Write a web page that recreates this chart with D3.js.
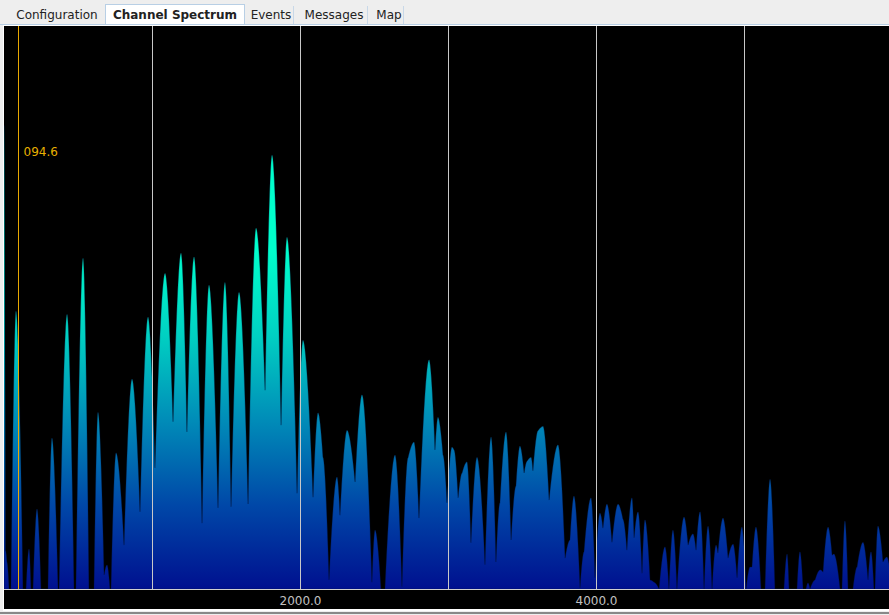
<!DOCTYPE html>
<html><head><meta charset="utf-8">
<script src="https://cdn.jsdelivr.net/npm/d3@7"></script>
<style>
html,body{margin:0;padding:0;background:#eeeeee;overflow:hidden}
svg{display:block}
text{font-family:"DejaVu Sans",sans-serif}
</style></head>
<body>
<svg id="c" width="889" height="615"></svg>
<script>
// ---- data ----
const tabs = ["Configuration","Channel Spectrum","Events","Messages","Map"];
const selectedTab = "Channel Spectrum";
const tickValues = [2000, 4000];
const tickLabels = ["2000.0", "4000.0"];
const gridValues = [1000, 2000, 3000, 4000, 5000];
const markerFreq = 94.6;
const markerLabel = "094.6";
// spectrum: frequency (Hz) and level (0-100 scale)
const freqs = [0,10,20,34,47,81,128,149,169,182,196,223,250,297,324,365,372,426,473,486,534,574,608,635,676,696,716,723,757,811,865,919,973,1020,1088,1142,1196,1236,1284,1338,1385,1446,1493,1534,1588,1649,1703,1764,1811,1872,1912,1980,2020,2088,2122,2155,2196,2250,2270,2318,2372,2419,2486,2507,2547,2574,2642,2689,2730,2770,2804,2872,2912,2932,2966,2993,3027,3041,3068,3095,3128,3155,3196,3250,3291,3324,3351,3392,3426,3459,3486,3514,3534,3561,3574,3608,3642,3683,3743,3791,3824,3851,3892,3919,3966,3993,4027,4047,4074,4108,4149,4182,4209,4243,4257,4284,4311,4331,4365,4392,4426,4466,4493,4520,4547,4595,4622,4655,4676,4703,4730,4757,4784,4811,4824,4858,4892,4926,4953,4986,5014,5041,5054,5081,5115,5142,5176,5209,5270,5291,5304,5358,5378,5399,5419,5432,5446,5480,5514,5534,5568,5595,5608,5649,5662,5682,5703,5736,5764,5804,5838,5858,5878,5885,5905,5939,5966,5986];
const levels = [82.4,6.9,4.8,0,0,49.4,0,0,7.1,0,0,14.2,0,0,26.8,0,0,48.8,0,0,58.8,0,0,31.4,2.5,4.3,0,0,24.2,7.8,37.3,13.7,48.3,21.5,56.1,29.7,59.7,27.9,59.0,11.7,54.0,14.4,54.5,14.6,52.7,15.1,64.1,35.3,77.1,29.1,62.5,17.0,44.2,16.3,31.3,23.4,1.6,19.9,13.1,28.2,19.0,34.5,1.2,10.5,0,0,23.8,0.4,23.3,26.1,12.6,40.7,24.7,30.5,23.8,15.3,25.2,24.7,16.2,20.6,22.6,8.2,23.4,4.3,27.0,4.8,15.3,27.9,8.7,18.3,25.4,20.6,22.7,23.4,21.0,28.1,28.9,15.8,25.6,5.5,8.7,16.5,0.2,6.6,16.2,2.0,13.5,10.8,15.1,8.3,15.1,12.4,6.9,16.2,9.1,13.7,2.8,12.3,1.6,1.2,0,7.5,0,10.5,0,12.8,7.8,9.8,6.9,13.7,0,11.2,0,7.8,6.4,12.6,5.5,8.0,2.0,11.0,0,3.9,3.9,11.0,0,0,19.5,0,0,6.2,0,0,6.6,0,0,1.1,0,1.6,3.4,3.0,11.0,6.0,6.2,0,0,12.1,0,0,3.9,8.3,1.6,6.6,0,0,11.2,4.8,5.7,3.4];

// ---- custom curve: rounded peaks, sharp troughs ----
function PeakCurve(context){ this._context = context; }
PeakCurve.prototype = {
  areaStart(){ this._line = 0; },
  areaEnd(){ this._line = NaN; },
  lineStart(){ this._point = 0; },
  lineEnd(){
    if (this._line || (this._line !== 0 && this._point === 1)) this._context.closePath();
    this._line = 1 - this._line;
  },
  point(px, py){
    px = +px; py = +py;
    if (this._point === 0) {
      this._point = 1;
      this._line ? this._context.lineTo(px, py) : this._context.moveTo(px, py);
    } else {
      const x0 = this._x0, y0 = this._y0, dx = px - x0, k = 0.62;
      if (py < y0) this._context.quadraticCurveTo(x0 + k*dx, py, px, py);
      else if (py > y0) this._context.quadraticCurveTo(px - k*dx, y0, px, py);
      else this._context.lineTo(px, py);
    }
    this._x0 = px; this._y0 = py;
  }
};
const curvePeak = ctx => new PeakCurve(ctx);

// ---- drawing ----
const svg = d3.select("#c");
const W = 889, H = 615;
const plot = {left: 4, top: 26, right: 889, bottom: 589};

svg.append("rect").attr("x",0).attr("y",0).attr("width",W).attr("height",H).attr("fill","#eeeeee");
const tabX = [9, 105, 245, 297, 371];
const tabW = [96, 140, 52, 74, 36];
tabs.forEach((t,i)=>{
  const sel = t === selectedTab;
  if (sel) {
    svg.append("rect").attr("x",tabX[i]+0.5).attr("y",4.5).attr("width",tabW[i]-1).attr("height",21)
      .attr("fill","#ffffff").attr("stroke","#b8cfe5");
  }
  svg.append("text").attr("x",tabX[i]+tabW[i]/2).attr("y",19).attr("text-anchor","middle")
    .attr("font-size",12).attr("font-weight",sel?"bold":"normal").attr("fill","#222222").text(t);
  if (i >= 2) {
    svg.append("line").attr("x1",tabX[i]+tabW[i]-3.5).attr("x2",tabX[i]+tabW[i]-3.5).attr("y1",6).attr("y2",24)
      .attr("stroke","#c8d8e8");
  }
});

svg.append("line").attr("x1",0).attr("x2",W).attr("y1",24.5).attr("y2",24.5).attr("stroke","#b8cfe5");
svg.append("rect").attr("x",3).attr("y",25).attr("width",W-3).attr("height",586).attr("fill","#ffffff");
svg.append("rect").attr("x",4).attr("y",26).attr("width",W-4).attr("height",583).attr("fill","#000000");
svg.append("rect").attr("x",0).attr("y",612).attr("width",W).attr("height",2).attr("fill","#888888");

const x = d3.scaleLinear().domain([0, 6000]).range([plot.left, plot.left + 888]);
const y = d3.scaleLinear().domain([0, 100]).range([plot.bottom, plot.top]);

const defs = svg.append("defs");
const grad = defs.append("linearGradient").attr("id","g").attr("gradientUnits","userSpaceOnUse")
  .attr("x1",0).attr("x2",0).attr("y1",y(0)).attr("y2",y(60));
[[0,"#00108f"],[0.25,"#0048a8"],[0.5,"#008cb8"],[0.75,"#00d0c2"],[1,"#00ffcc"]].forEach(s=>{
  grad.append("stop").attr("offset",s[0]).attr("stop-color",s[1]);
});
defs.append("clipPath").attr("id","clip").append("rect")
  .attr("x",plot.left).attr("y",plot.top).attr("width",plot.right-plot.left).attr("height",plot.bottom-plot.top);

const data = freqs.map((f,i)=>({f, v: levels[i]}));
const area = d3.area().x(d=>x(d.f)).y0(y(0)).y1(d=>y(d.v)).curve(curvePeak);
const g = svg.append("g").attr("clip-path","url(#clip)");
g.append("path").datum(data).attr("d",area).attr("fill","url(#g)")
  .attr("stroke","rgba(0,20,60,0.4)").attr("stroke-width",0.8);

g.selectAll("line.grid").data(gridValues).enter().append("line").attr("class","grid")
  .attr("x1",d=>Math.round(x(d))+0.5).attr("x2",d=>Math.round(x(d))+0.5)
  .attr("y1",plot.top).attr("y2",plot.bottom).attr("stroke","#c8c8c8").attr("stroke-width",1);

const axis = d3.axisBottom(x).tickValues(tickValues).tickFormat((d,i)=>tickLabels[i]).tickSize(0).tickPadding(7);
const ag = svg.append("g").attr("transform",`translate(0,${plot.bottom})`).call(axis);
ag.select(".domain").attr("stroke","#d0d0d0").attr("d",`M${plot.left},0.5H${W}`);
ag.selectAll("text").attr("fill","#c0c0c0").attr("font-size",12).attr("font-family","DejaVu Sans");

const mx = Math.round(x(markerFreq)) + 0.5;
svg.append("line").attr("x1",mx).attr("x2",mx).attr("y1",plot.top).attr("y2",plot.bottom)
  .attr("stroke","#e8a800").attr("stroke-width",1);
svg.append("text").attr("x",mx+5).attr("y",156).attr("font-size",12).attr("fill","#e8b000").text(markerLabel);
</script>
</body></html>
